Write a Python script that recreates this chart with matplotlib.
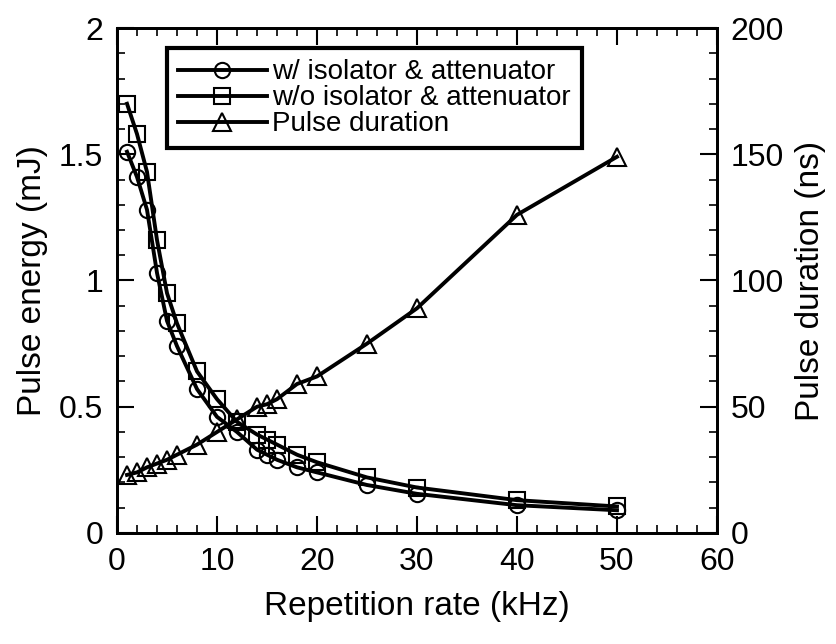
import matplotlib.pyplot as plt
from matplotlib.ticker import MultipleLocator

plt.rcParams['font.family'] = ['Liberation Sans', 'DejaVu Sans']

# repetition rate (kHz)
rate = [1, 2, 3, 4, 5, 6, 8, 10, 12, 14, 15, 16, 18, 20, 25, 30, 40, 50]
# pulse energy (mJ)
energy_iso = [1.51, 1.41, 1.28, 1.03, 0.84, 0.74, 0.57, 0.46, 0.40, 0.33,
              0.31, 0.29, 0.26, 0.24, 0.19, 0.155, 0.11, 0.09]
energy_noiso = [1.70, 1.58, 1.43, 1.16, 0.95, 0.83, 0.64, 0.53, 0.44, 0.39,
                0.37, 0.35, 0.31, 0.28, 0.22, 0.18, 0.13, 0.105]
# pulse duration (ns)
duration = [23, 24, 26, 27.5, 29, 31, 35, 40, 45, 50, 51, 53, 59, 62,
            75, 89, 126, 149]

xticks = [0, 10, 20, 30, 40, 50, 60]
yticks_left = [0, 0.5, 1, 1.5, 2]
ylabels_left = ["0", "0.5", "1", "1.5", "2"]
yticks_right = [0, 50, 100, 150, 200]

fig = plt.figure(figsize=(8.37, 6.44), dpi=100)
ax = fig.add_axes([0.1398, 0.1724, 0.7168, 0.7841])
ax2 = ax.twinx()

mk = dict(color="black", linewidth=2.8, markersize=11, markerfacecolor="none",
          markeredgewidth=1.5, markeredgecolor="black")
l1, = ax.plot(rate, energy_iso, marker="o", label="w/ isolator & attenuator", **mk)
l2, = ax.plot(rate, energy_noiso, marker="s", label="w/o isolator & attenuator", **mk)
l3, = ax2.plot(rate, duration, marker="^", label="Pulse duration",
               **dict(mk, markersize=13))

ax.set_xlim(0, 60)
ax.set_ylim(0, 2)
ax2.set_ylim(0, 200)
ax.set_xticks(xticks)
ax.set_yticks(yticks_left)
ax.set_yticklabels(ylabels_left)
ax2.set_yticks(yticks_right)
ax.xaxis.set_minor_locator(MultipleLocator(2))
ax.yaxis.set_minor_locator(MultipleLocator(0.1))
ax2.yaxis.set_minor_locator(MultipleLocator(10))

for a in (ax, ax2):
    for s in a.spines.values():
        s.set_linewidth(2)
    a.tick_params(which="major", direction="in", length=12, width=1.5,
                  labelsize=23, pad=10)
    a.tick_params(which="minor", direction="in", length=6, width=1.2)
ax.tick_params(which="both", top=True)
ax2.tick_params(which="both", right=True)

ax.set_xlabel("Repetition rate (kHz)", fontsize=24, labelpad=10)
ax.set_ylabel("Pulse energy (mJ)", fontsize=24, labelpad=8)
ax2.set_ylabel("Pulse duration (ns)", fontsize=24, labelpad=8)

leg = ax2.legend(handles=[l1, l2, l3], loc="upper left",
                 bbox_to_anchor=(0.083, 0.96), fontsize=20, frameon=True,
                 fancybox=False, framealpha=1, handlelength=3.2, borderpad=0.4,
                 labelspacing=0.0, handletextpad=0.2, borderaxespad=0)
leg.get_frame().set_edgecolor("black")
leg.get_frame().set_linewidth(3)

fig.savefig("out.png", dpi=100)
